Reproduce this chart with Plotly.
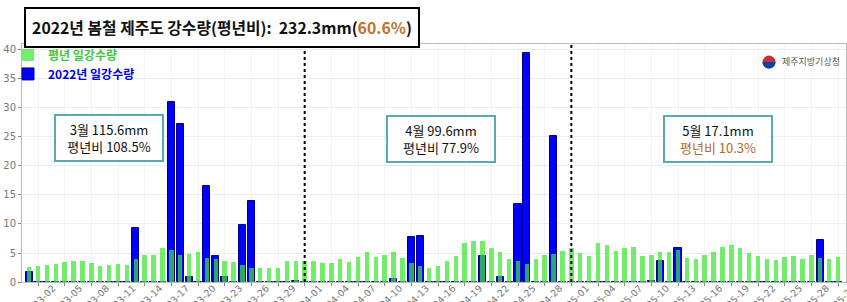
import numpy as np
import plotly.graph_objects as go

# ---------------- data ----------------
dates = ([f"03-{d:02d}" for d in range(1, 32)] +
         [f"04-{d:02d}" for d in range(1, 31)] +
         [f"05-{d:02d}" for d in range(1, 32)])

normal_mar = [2.6, 2.8, 2.9, 3.1, 3.5, 3.6, 3.7, 3.2, 2.8, 3.0, 3.1, 2.9, 4.0, 4.7, 4.7, 5.8,
              5.6, 4.7, 4.8, 5.1, 4.1, 4.0, 3.7, 3.5, 2.9, 2.4, 2.4, 2.5, 2.5, 3.6, 3.7]
normal_apr = [3.7, 3.6, 3.2, 3.3, 3.9, 3.5, 4.3, 5.1, 4.3, 4.6, 5.2, 4.1, 3.2, 2.8, 2.5,
              2.8, 3.6, 4.5, 6.8, 7.1, 7.1, 5.9, 5.2, 4.0, 3.6, 3.1, 4.0, 4.6, 4.8, 5.4]
normal_may = [5.9, 5.0, 4.4, 6.8, 6.4, 5.3, 5.8, 6.0, 4.5, 4.7, 5.2, 5.2, 5.6, 4.1, 3.9, 4.7,
              5.2, 6.0, 6.3, 5.9, 5.0, 4.5, 3.9, 3.8, 4.3, 4.4, 4.0, 4.6, 4.1, 4.0, 4.3]

rain_mar = [1.7, 0, 0, 0, 0, 0, 0, 0, 0, 0, 0, 0, 9.3, 0, 0, 0, 31.0, 27.2, 0.8, 0, 16.5,
            4.4, 0.8, 0, 9.8, 14.0, 0, 0, 0, 0, 0.1]
rain_apr = [0, 0, 0, 0, 0, 0, 0, 0, 0, 0, 0.6, 0, 7.7, 8.0, 0, 0, 0, 0, 0, 0, 4.4, 0, 0.8,
            0, 13.5, 39.5, 0, 0, 25.1, 0]
rain_may = [0, 0, 0, 0, 0, 0, 0, 0, 0, 0.2, 3.7, 0, 5.9, 0, 0, 0, 0, 0, 0, 0, 0, 0, 0, 0,
            0, 0, 0, 0, 7.3, 0, 0]

normal = normal_mar + normal_apr + normal_may
rain = rain_mar + rain_apr + rain_may

tick_labels = dates[1::3]
y_ticks = [0, 5, 10, 15, 20, 25, 30, 35, 40]
month_starts = ["04-01", "05-01"]

title_text = "2022년 봄철 제주도 강수량(평년비):  232.3mm(<span style='color:#c0732d'>60.6%</span>)"
month_notes = [
    (0.106, 0.605, "3월 115.6mm<br>평년비 108.5%"),
    (0.508, 0.601, "4월 99.6mm<br>평년비 77.9%"),
    (0.845, 0.601, "5월 17.1mm<br><span style='color:#b8692a'>평년비 10.3%</span>"),
]

# ---------------- figure ----------------
FONT = "Noto Sans CJK KR"
fig = go.Figure()

fig.add_trace(go.Bar(
    x=dates, y=rain, name="<span style='color:#0000ee'><b>2022년 일강수량</b></span>",
    marker=dict(color="#0000ff", line=dict(color="#00008b", width=1)),
    width=0.8,
))
fig.add_trace(go.Bar(
    x=dates, y=normal, name="<span style='color:#3ec83e'><b>평년 일강수량</b></span>",
    marker=dict(color="rgba(60,232,50,0.72)", line=dict(width=0)),
    width=0.5,
))

fig.update_layout(
    width=847, height=302,
    margin=dict(l=22, r=1, t=44, b=20),
    barmode="overlay",
    plot_bgcolor="white", paper_bgcolor="white",
    font=dict(family=FONT, size=11, color="#333"),
    showlegend=True,
    legend=dict(x=-0.017, y=1.015, xanchor="left", yanchor="top",
                traceorder="reversed", bgcolor="rgba(0,0,0,0)",
                font=dict(size=12, family=FONT), itemwidth=30,
                tracegroupgap=0),
    bargap=0,
)

fig.update_xaxes(
    type="category", range=[-0.8, 91.9],
    tickmode="array", tickvals=tick_labels, ticktext=tick_labels,
    tickangle=-45, tickfont=dict(size=9.5, color="#777", family="DejaVu Sans"),
    ticks="outside", ticklen=3, tickcolor="#888",
    showgrid=True, gridcolor="#f3f3f3",
    showline=True, linecolor="#bbbbbb", mirror=True,
    automargin=False, ticklabelshift=15, ticklabelstandoff=-7,
)
fig.update_yaxes(
    range=[0, 41.03], tickvals=y_ticks,
    tickfont=dict(size=10, color="#777", family="DejaVu Sans"),
    ticks="outside", ticklen=3, tickcolor="#888",
    showgrid=True, gridcolor="#ececec",
    showline=True, linecolor="#bbbbbb", mirror=True,
    zeroline=False, automargin=False,
)

for m in month_starts:
    fig.add_shape(type="line", x0=m, x1=m, xref="x", y0=0, y1=1, yref="y domain",
                  line=dict(color="black", width=2, dash="dot"))

for xpos, ypos, txt in month_notes:
    fig.add_annotation(x=xpos, y=ypos, xref="paper", yref="paper", text=txt,
                       xanchor="center", yanchor="middle",
                       showarrow=False, align="center",
                       font=dict(size=13, family=FONT, color="#111"),
                       bgcolor="white", bordercolor="#5aaab3", borderwidth=2,
                       width=104, height=42, borderpad=1)

fig.add_annotation(x=2/824, y=(282 - 7) / 238, xref="paper", yref="paper",
                   xanchor="left", yanchor="top", text="<b>" + title_text + "</b>",
                   showarrow=False, font=dict(size=15.8, family=FONT, color="#111"),
                   bgcolor="white", bordercolor="black", borderwidth=2,
                   width=390, height=35, align="center")

# logo (taegeuk-like circle + text)
def px2paper(px, py):
    return (px - 22) / 824, (282 - py) / 238

cx, cy, r = 769, 62, 6.5
xs0, ys0 = px2paper(cx - r, cy - r)
xs1, ys1 = px2paper(cx + r, cy + r)
fig.add_shape(type="circle", xref="paper", yref="paper", x0=xs0, x1=xs1, y0=ys1, y1=ys0,
              fillcolor="#cd2e3a", line=dict(width=0))
ang = np.linspace(0, np.pi, 25)
pts = [px2paper(cx + r * np.cos(a), cy + r * np.sin(a)) for a in ang]
path = "M " + " L ".join(f"{p[0]:.5f},{p[1]:.5f}" for p in pts) + " Z"
fig.add_shape(type="path", xref="paper", yref="paper", path=path,
              fillcolor="#0047a0", line=dict(width=0))
lx, ly = px2paper(780, 62)
fig.add_annotation(x=lx, y=ly, xref="paper", yref="paper", xanchor="left", yanchor="middle",
                   text="제주지방기상청", showarrow=False,
                   font=dict(size=9, family=FONT, color="#555"))

fig.write_html("out.html", config={"displayModeBar": False},
               post_script="document.body.style.margin='0';")
